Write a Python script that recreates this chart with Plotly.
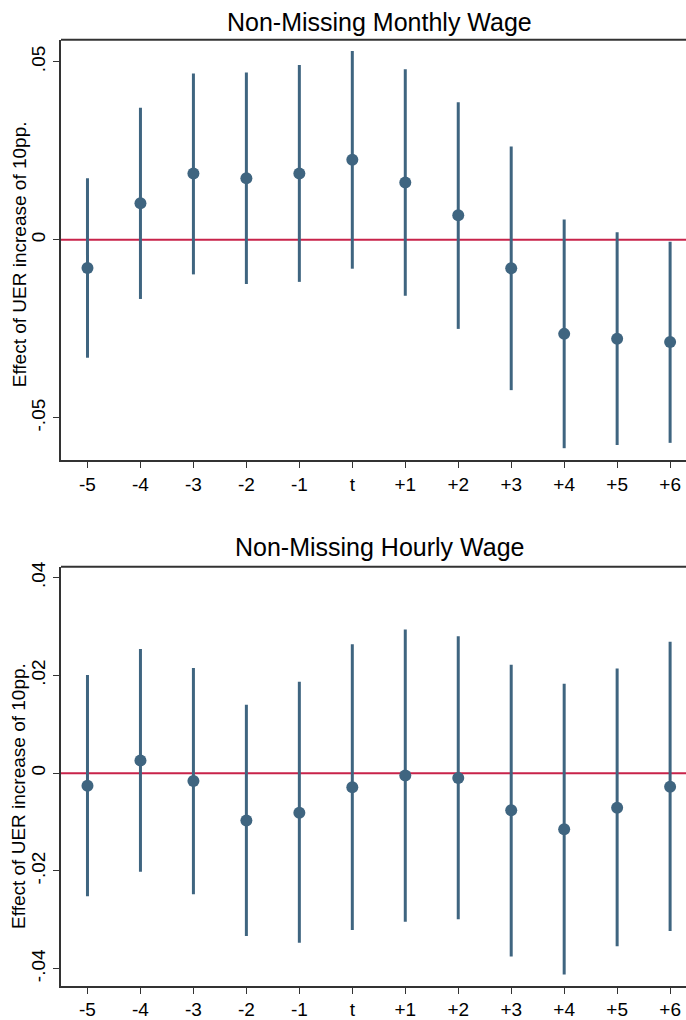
import plotly.graph_objects as go

# ---- data ----
periods = ["-5", "-4", "-3", "-2", "-1", "t", "+1", "+2", "+3", "+4", "+5", "+6"]

monthly_coef = [-0.0079, 0.0103, 0.0186, 0.0173, 0.0186, 0.0225, 0.0161, 0.0069, -0.0080, -0.0264, -0.0278, -0.0287]
monthly_hi   = [0.0173, 0.0371, 0.0467, 0.0470, 0.0491, 0.0530, 0.0479, 0.0386, 0.0262, 0.0057, 0.0021, -0.0005]
monthly_lo   = [-0.0331, -0.0166, -0.0097, -0.0124, -0.0118, -0.0081, -0.0157, -0.0250, -0.0422, -0.0585, -0.0576, -0.0570]

hourly_coef = [-0.0026, 0.0026, -0.0016, -0.0097, -0.0081, -0.0029, -0.0005, -0.0010, -0.0076, -0.0115, -0.0071, -0.0028]
hourly_hi   = [0.0201, 0.0254, 0.0215, 0.0140, 0.0187, 0.0264, 0.0294, 0.0280, 0.0222, 0.0183, 0.0214, 0.0269]
hourly_lo   = [-0.0252, -0.0202, -0.0248, -0.0333, -0.0347, -0.0321, -0.0304, -0.0299, -0.0375, -0.0412, -0.0354, -0.0323]

titles = ["Non-Missing Monthly Wage", "Non-Missing Hourly Wage"]
ytitle = "Effect of UER increase of 10pp."
monthly_ticks = [-0.05, 0, 0.05]
monthly_ticktext = ["-.05", "0", ".05"]
hourly_ticks = [-0.04, -0.02, 0, 0.02, 0.04]
hourly_ticktext = ["-.04", "-.02", "0", ".02", ".04"]

# ---- style ----
W, H = 686, 1020
FONT = "Liberation Sans, Arial, sans-serif"
MARK = "#3f6580"
RED = "#c8234a"
AX = "#333333"

def py(px):
    return 1 - px / H

fig = go.Figure()
xs = list(range(len(periods)))

panels = [
    (monthly_coef, monthly_hi, monthly_lo, "x", "y"),
    (hourly_coef, hourly_hi, hourly_lo, "x2", "y2"),
]
for coef, hi, lo, xa, ya in panels:
    fig.add_trace(go.Scatter(
        x=xs, y=coef, mode="markers", xaxis=xa, yaxis=ya,
        marker=dict(color=MARK, size=12),
        error_y=dict(type="data", symmetric=False,
                     array=[h - c for h, c in zip(hi, coef)],
                     arrayminus=[c - l for c, l in zip(coef, lo)],
                     color=MARK, thickness=3, width=0),
        showlegend=False,
    ))

xdom = [61 / W, 1.0]
top_dom = [py(459), py(35)]
bot_dom = [py(989.3), py(566.7)]

xcommon = dict(range=[-0.5, 11.3], tickvals=xs, ticktext=periods, showline=True,
               linecolor=AX, linewidth=2, ticks="outside", ticklen=6, tickwidth=1.2,
               tickcolor=AX, showgrid=False, zeroline=False,
               tickfont=dict(family=FONT, size=19, color="#000000"), domain=xdom)
ycommon = dict(showline=True, linecolor=AX, linewidth=2, ticks="outside", ticklen=6,
               tickwidth=1.2, tickcolor=AX, showgrid=False, zeroline=False, tickangle=-90,
               tickfont=dict(family=FONT, size=19, color="#000000"))

fig.update_layout(
    width=W, height=H, margin=dict(l=0, r=0, t=0, b=0),
    paper_bgcolor="white", plot_bgcolor="white",
    xaxis=dict(**xcommon, anchor="y"),
    yaxis=dict(**ycommon, range=[-0.0618, 0.0562], tickvals=monthly_ticks,
               ticktext=monthly_ticktext, domain=top_dom, anchor="x"),
    xaxis2=dict(**xcommon, anchor="y2"),
    yaxis2=dict(**ycommon, range=[-0.04347, 0.04225], tickvals=hourly_ticks,
                ticktext=hourly_ticktext, domain=bot_dom, anchor="x2"),
)

# zero reference lines
for xa, ya in [("x", "y"), ("x2", "y2")]:
    fig.add_shape(type="line", xref=f"{xa} domain", yref=ya, x0=0, x1=1, y0=0, y1=0,
                  line=dict(color=RED, width=2), layer="below")

# top frame lines
for dom in [top_dom, bot_dom]:
    fig.add_shape(type="line", xref="paper", yref="paper", x0=xdom[0], x1=1,
                  y0=dom[1], y1=dom[1], line=dict(color=AX, width=2))

# titles
for t, ycen in zip(titles, [17, 547]):
    fig.add_annotation(text=t, xref="paper", yref="paper", x=379 / W, y=py(ycen),
                       xanchor="center", yanchor="middle", showarrow=False,
                       font=dict(family=FONT, size=25, color="#000000"))

# y-axis titles
for ycen in [251.5, 798]:
    fig.add_annotation(text=ytitle, xref="paper", yref="paper", x=19 / W, y=py(ycen),
                       xanchor="center", yanchor="middle", textangle=-90, showarrow=False,
                       font=dict(family=FONT, size=19, color="#000000"))

fig.write_html("out.html")
